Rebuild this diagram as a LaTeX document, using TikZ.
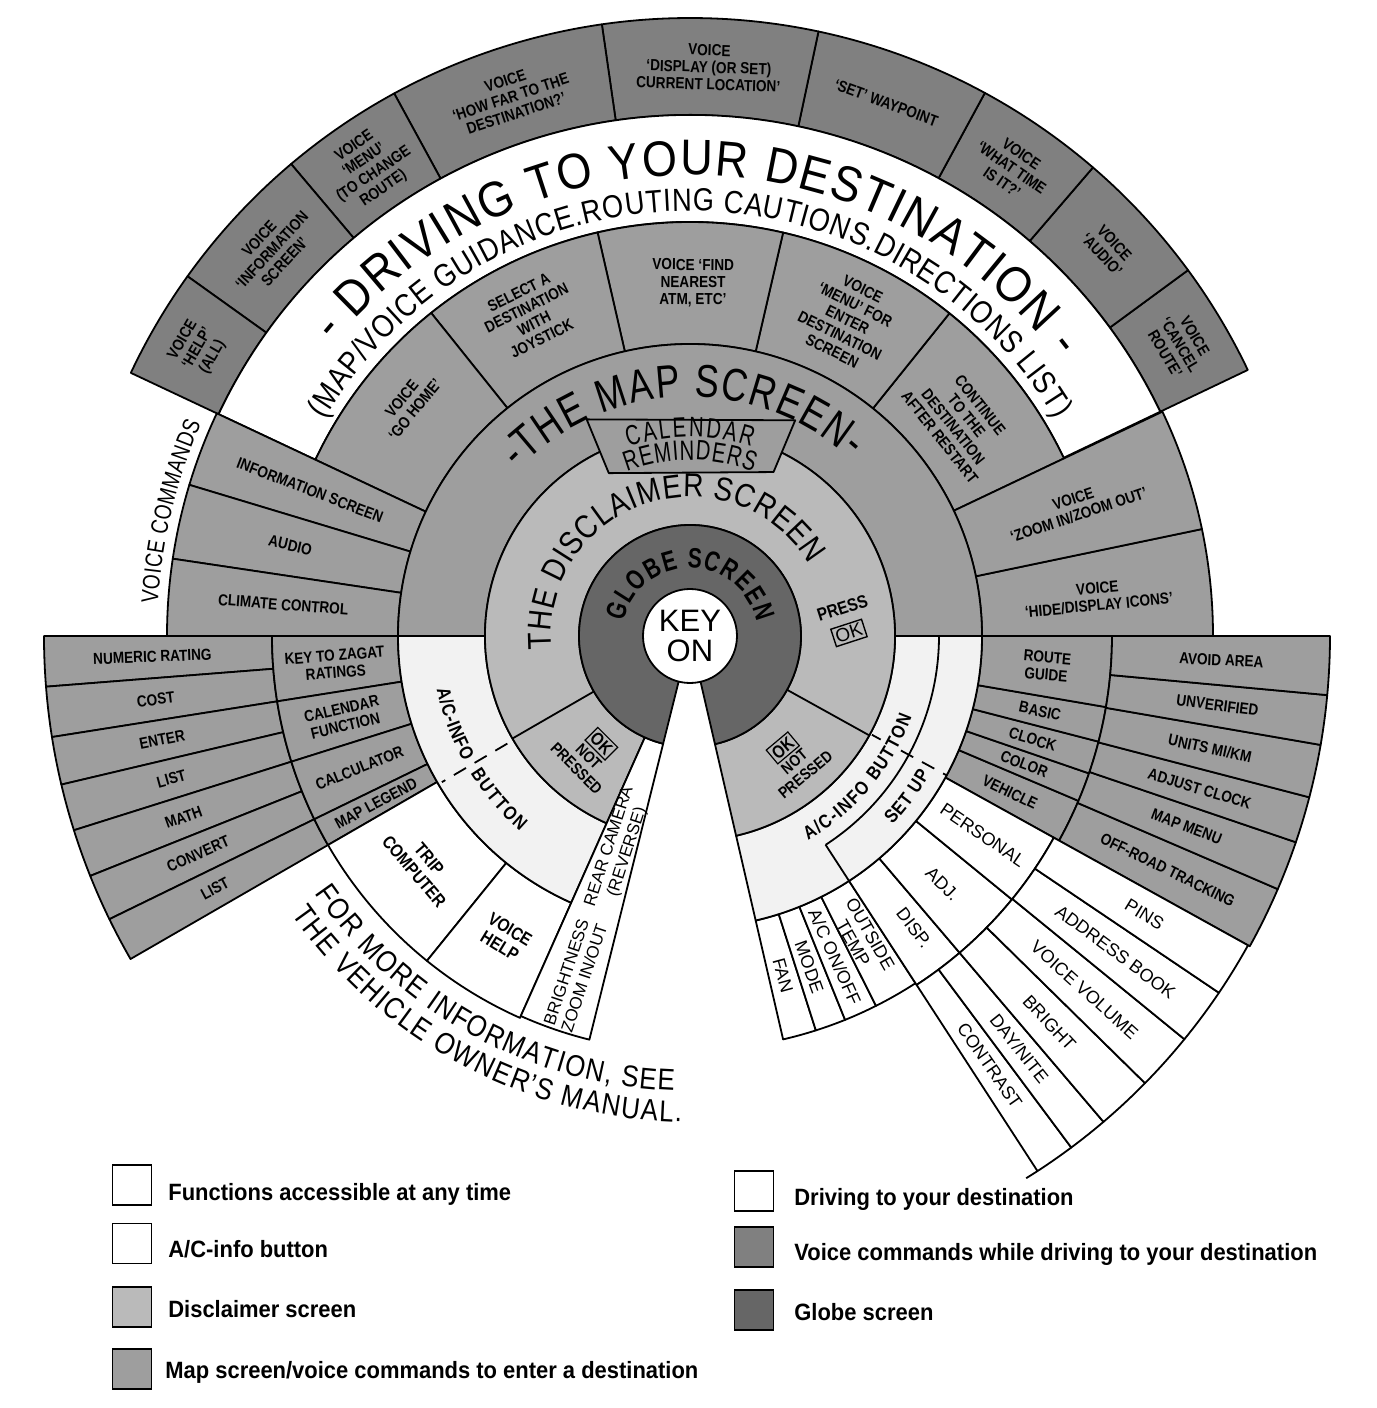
\documentclass[tikz,border=0pt]{standalone}
\usepackage{fontspec}
\setmainfont{Liberation Sans}
\newfontfamily\labf[FakeStretch=0.85]{Liberation Sans}
\newfontfamily\ttlf[FakeStretch=0.9]{Liberation Sans}
\newfontfamily\subf[FakeStretch=0.85]{Liberation Sans}
\newfontfamily\mapf[FakeStretch=0.78]{Liberation Sans}
\newfontfamily\glof[FakeStretch=0.75]{Liberation Sans}
\newfontfamily\calf[FakeStretch=0.72]{Liberation Sans}
\newfontfamily\vcf[FakeStretch=0.8]{Liberation Sans}
\newfontfamily\forf[FakeStretch=0.86]{Liberation Sans}
\newfontfamily\legf[FakeStretch=0.93]{Liberation Sans}
\usetikzlibrary{decorations.text}
\colorlet{mapg}{black!38}
\colorlet{voiceg}{black!50}
\colorlet{discg}{black!27}
\colorlet{globeg}{black!60}
\colorlet{acg}{black!5}
\setlength\fboxsep{1pt}
\setlength\fboxrule{0.6pt}
\newcommand\labfont{\labf\bfseries\fontsize{8}{8.6}\selectfont}
\newcommand\wfont{\fontsize{9}{9.8}\selectfont}
\newcommand\sfont{\fontsize{8.5}{9.4}\selectfont}
\newcommand\ttlfont{\ttlf\fontsize{25}{25}\selectfont}
\newcommand\subfont{\subf\fontsize{16}{16}\selectfont}
\newcommand\mapfont{\mapf\fontsize{23}{23}\selectfont}
\newcommand\disfont{\subf\fontsize{16.5}{16.5}\selectfont}
\newcommand\glofont{\glof\bfseries\fontsize{14}{14}\selectfont}
\newcommand\calfont{\calf\fontsize{14}{14}\selectfont}
\newcommand\vcfont{\vcf\fontsize{12}{12}\selectfont}
\newcommand\forfont{\forf\fontsize{15}{15}\selectfont}
\newcommand\acfont{\labf\bfseries\fontsize{9.5}{9.5}\selectfont}
\newcommand\legfont{\legf\bfseries\fontsize{11.8}{12}\selectfont}
\newcommand\annsec[5]{\path[#1] (#2:#4) arc[start angle=#2,end angle=#3,radius=#4] -- (#3:#5) arc[start angle=#3,end angle=#2,radius=#5] -- cycle;}
\newcommand\arctext[5]{\path[decorate,decoration={text along path,text={|#1|#2},text align={fit to path}}] (#3:#5) arc[start angle=#3,end angle=#4,radius=#5];}
\begin{document}
\begin{tikzpicture}[x=0.5pt,y=0.5pt,
  cell/.style={fill=#1,draw=black,line width=0.9pt,line join=round},
  ln/.style={draw=black,line width=0.9pt},
  lab/.style={font=\labfont,align=center,inner sep=0pt},
  wlab/.style={font=\wfont,align=center,inner sep=0pt},
  slab/.style={font=\sfont,align=center,inner sep=0pt},
  blab/.style={font=\labf\bfseries\fontsize{9}{9.8}\selectfont,align=center,inner sep=0pt},
  legbox/.style={draw=black,line width=0.6pt,minimum width=19.5pt,minimum height=20pt,inner sep=0pt},
  legtxt/.style={font=\legfont,anchor=base west,inner sep=0pt}]
\useasboundingbox (-690,-772) rectangle (686,636);
\fill[white] (-690,-772) rectangle (686,636);

% ---------- outer voice ring ----------
\foreach \a/\b in {25.5/36.3,36.3/49.3,49.3/61.5,61.5/78,78/98.2,98.2/118.6,118.6/130.2,130.2/144.4,144.4/154.8}
  {\annsec{cell=voiceg}{\a}{\b}{521}{618}}
% white band
\annsec{cell=white}{25.5}{154.8}{414}{521}
% middle ring (map screen voice commands)
\foreach \a/\b in {25.4/51.2,51.2/77,77/102.9,102.9/128.7,128.7/154.8}
  {\annsec{cell=mapg}{\a}{\b}{292}{414}}
% left upper sector
\foreach \a/\b in {154.8/163.2,163.2/171.5,171.5/180}
  {\annsec{cell=mapg}{\a}{\b}{292}{523}}
% right upper sector
\foreach \a/\b in {0/11.8,11.8/25.4}
  {\annsec{cell=mapg}{\a}{\b}{292}{523}}
% left lower: outer column
\foreach \a/\b in {180/184.5,184.5/189,189/193.3,193.3/197.5,197.5/201.8,201.8/206,206/210}
  {\annsec{cell=mapg}{\a}{\b}{418}{646}}
% left lower: inner column
\foreach \a/\b in {180/189,189/197.5,197.5/206,206/210}
  {\annsec{cell=mapg}{\a}{\b}{292}{418}}
% trip computer / voice help
\annsec{cell=white}{210}{231}{292}{418}
\annsec{cell=white}{231}{246}{292}{418}
% right lower gray: inner + outer
\foreach \a/\b in {331/337,337/341,341/345.5,345.5/350.3,350.3/360}
  {\annsec{cell=mapg}{\a}{\b}{292}{422}}
\foreach \a/\b in {331/336.7,336.7/341.2,341.2/345.4,345.4/350.2,350.2/354.7,354.7/360}
  {\annsec{cell=mapg}{\a}{\b}{422}{640}}
% A/C cells
\foreach \a/\b in {283/287.7,287.7/292,292/296.7,296.7/303}
  {\annsec{cell=white}{\a}{\b}{292}{414}}
% set up cells
\foreach \a/\b in {303/310.4,310.4/320.7,320.7/331}
  {\annsec{cell=white}{\a}{\b}{292}{416}}
\foreach \a/\b in {303/306.7,306.7/310.4,310.4/315.5,315.5/320.8,320.8/326,326/331}
  {\annsec{cell=white}{\a}{\b}{416}{638}}
\draw[ln] (301.8:638) arc[start angle=301.8,end angle=303,radius=638];

% ---------- inner rings ----------
\annsec{cell=mapg}{0}{180}{205}{292}
\annsec{cell=acg}{180}{246}{205}{292}
\annsec{cell=acg}{283}{360}{205}{292}
\draw[ln] (303:249) arc[start angle=303,end angle=360,radius=249];
\draw[ln] (303:249) -- (303:292);
\draw[ln,dashed,dash pattern=on 7pt off 5pt] (210.5:212) -- (210.5:288);
\draw[ln,dashed,dash pattern=on 7pt off 5pt] (331.5:240) -- (331.5:292);
\draw[ln] (331.5:207) -- (331.5:217);
% disclaimer
\annsec{cell=discg}{283}{606}{111}{205}
\draw[ln] (210:111) -- (210:205);
\draw[ln] (331:111) -- (331:205);
% strip
\annsec{cell=white}{246}{256}{111}{416}
% globe
\path[cell=globeg] (0,0) -- (283:111) arc[start angle=283,end angle=616,radius=111] -- cycle;
% calendar box
\path[cell=mapg] (115.5:240) -- (64:240) -- (63:184) -- (116.5:182) -- cycle;
% key on
\fill[white] (0,0) circle[radius=47];
\draw[ln] (0,0) circle[radius=47];
\node[font=\fontsize{15.5}{15}\selectfont,align=center,inner sep=0pt] (key) at (0,0) {KEY\\ON};

% ---------- curved titles ----------
\arctext{\ttlfont}{- DRIVING TO YOUR DESTINATION -}{140.5}{37}{461}
\arctext{\subfont}{(MAP/VOICE GUIDANCE.ROUTING CAUTIONS.DIRECTIONS LIST)}{149.4}{30.6}{425}
\arctext{\mapfont}{-THE MAP SCREEN-}{136}{48}{239}
\arctext{\disfont}{THE DISCLAIMER SCREEN}{185.4}{31}{139}
\arctext{\glofont}{GLOBE SCREEN}{168}{12}{68}
\arctext{\calfont}{CALENDAR}{108}{72}{199}
\arctext{\calfont}{REMINDERS}{111}{69}{176}
\arctext{\vcfont}{VOICE COMMANDS}{176.5}{156.5}{533}
\arctext{\forfont}{FOR MORE INFORMATION, SEE}{214.5}{268}{455}
\arctext{\forfont}{THE VEHICLE OWNER’S MANUAL.}{215}{269}{486}
\arctext{\acfont}{A/C-INFO}{192}{209}{259}
\arctext{\acfont}{BUTTON}{212}{229}{259}
\arctext{\acfont}{A/C-INFO BUTTON}{300}{340}{236}
\arctext{\acfont}{SET UP}{317}{330}{277}

% ---------- outer ring labels ----------
\node[lab,rotate=59.7] (o1) at (149.7:570) {VOICE\\‘HELP’\\(ALL)};
\node[lab,rotate=47.3] (o2) at (137.3:569) {VOICE\\‘INFORMATION\\SCREEN’};
\node[lab,rotate=34.4] (o3) at (124.4:568) {VOICE\\‘MENU’\\(TO CHANGE\\ROUTE)};
\node[lab,rotate=18.4] (o4) at (108.4:568) {VOICE\\‘HOW FAR TO THE\\DESTINATION?’};
\node[lab,rotate=-1.9] (o5) at (88.1:569) {VOICE\\‘DISPLAY (OR SET)\\CURRENT LOCATION’};
\node[lab,rotate=-20.2] (o6) at (69.8:568) {‘SET’ WAYPOINT};
\node[lab,rotate=-34.5] (o7) at (55.5:568) {VOICE\\‘WHAT TIME\\IS IT?’};
\node[lab,rotate=-47.2] (o8) at (42.8:570) {VOICE\\‘AUDIO’};
\node[lab,rotate=-59.3] (o9) at (30.7:570) {VOICE\\‘CANCEL\\ROUTE’};
% middle ring labels
\node[lab,rotate=50.5] (m1) at (140.5:365) {VOICE\\‘GO HOME’};
\node[lab,rotate=26.5] (m2) at (116.5:358) {SELECT A\\DESTINATION\\WITH\\JOYSTICK};
\node[lab,rotate=-0.5] (m3) at (89.5:353) {VOICE ‘FIND\\NEAREST\\ATM, ETC’};
\node[lab,rotate=-26.5] (m4) at (63.5:353) {VOICE\\‘MENU’ FOR\\ENTER\\DESTINATION\\SCREEN};
\node[lab,rotate=-51.5] (m5) at (38.5:345) {CONTINUE\\TO THE\\DESTINATION\\AFTER RESTART};
% left upper
\node[lab,rotate=-21] (lu1) at (159:407) {INFORMATION SCREEN};
\node[lab,rotate=-12.8] (lu2) at (167.2:410) {AUDIO};
\node[lab,rotate=-4.4] (lu3) at (175.6:408) {CLIMATE CONTROL};
% right upper
\node[lab,rotate=18.5] (ru1) at (18.5:407) {VOICE\\‘ZOOM IN/ZOOM OUT’};
\node[lab,rotate=5.5] (ru2) at (5.5:410) {VOICE\\‘HIDE/DISPLAY ICONS’};
% left lower outer
\node[lab,rotate=2.2] (ll1) at (182.2:538) {NUMERIC RATING};
\node[lab,rotate=6.8] (ll2) at (186.8:538) {COST};
\node[lab,rotate=11.1] (ll3) at (191.1:538) {ENTER};
\node[lab,rotate=15.4] (ll4) at (195.4:538) {LIST};
\node[lab,rotate=19.7] (ll5) at (199.7:538) {MATH};
\node[lab,rotate=23.9] (ll6) at (203.9:538) {CONVERT};
\node[lab,rotate=28] (ll7) at (208:538) {LIST};
% left lower inner
\node[lab,rotate=4.5] (li1) at (184.5:356) {KEY TO ZAGAT\\RATINGS};
\node[lab,rotate=13.2] (li2) at (193.2:356) {CALENDAR\\FUNCTION};
\node[lab,rotate=21.8] (li3) at (201.8:356) {CALCULATOR};
\node[lab,rotate=28.1] (li4) at (208.1:356) {MAP LEGEND};
% right lower inner
\node[lab,rotate=-4.8] (ri1) at (355.2:358) {ROUTE\\GUIDE};
\node[lab,rotate=-12.1] (ri2) at (347.9:358) {BASIC};
\node[lab,rotate=-16.8] (ri3) at (343.2:358) {CLOCK};
\node[lab,rotate=-21] (ri4) at (339:358) {COLOR};
\node[lab,rotate=-26] (ri5) at (334:356) {VEHICLE};
% right lower outer
\node[lab,rotate=-2.6] (ro1) at (357.4:532) {AVOID AREA};
\node[lab,rotate=-7.5] (ro2) at (352.5:532) {UNVERIFIED};
\node[lab,rotate=-12.2] (ro3) at (347.8:532) {UNITS MI/KM};
\node[lab,rotate=-16.7] (ro4) at (343.3:532) {ADJUST CLOCK};
\node[lab,rotate=-21] (ro5) at (339:532) {MAP MENU};
\node[lab,rotate=-26.1] (ro6) at (333.9:532) {OFF-ROAD TRACKING};
% white right lower
\node[wlab,rotate=-74.7] (w1) at (285.3:352) {FAN};
\node[wlab,rotate=-70.2] (w2) at (289.8:352) {MODE};
\node[wlab,rotate=-65.7] (w3) at (294.3:352) {A/C ON/OFF};
\node[wlab,rotate=-60.4] (w4) at (299.6:348) {OUTSIDE\\TEMP};
\node[wlab,rotate=-52.5] (w5) at (307.5:368) {DISP.};
\node[wlab,rotate=-44.5] (w6) at (315.5:354) {ADJ.};
\node[wlab,rotate=-34.2] (w7) at (325.8:354) {PERSONAL};
\node[wlab,rotate=-55.1] (w8) at (304.9:524) {CONTRAST};
\node[wlab,rotate=-51.4] (w9) at (308.6:528) {DAY/NITE};
\node[wlab,rotate=-47.1] (w10) at (312.9:528) {BRIGHT};
\node[wlab,rotate=-41.9] (w11) at (318.1:530) {VOICE VOLUME};
\node[wlab,rotate=-36.6] (w12) at (323.4:530) {ADDRESS BOOK};
\node[wlab,rotate=-31.5] (w13) at (328.5:533) {PINS};
% white left lower
\node[blab,rotate=-49.5] (w14) at (220.5:353) {TRIP\\COMPUTER};
\node[blab,rotate=-31.5] (w15) at (238.5:354) {VOICE\\HELP};
\node[slab,rotate=72] (w16) at (251.5:225) {REAR CAMERA\\(REVERSE)};
\node[slab,rotate=71.6] (w17) at (251.3:358) {BRIGHTNESS\\ZOOM IN/OUT};
% disclaimer labels
\node[blab,rotate=18] (press) at (10.4:155) {PRESS};
\node[font=\fontsize{9.5}{9.5}\selectfont,draw,line width=0.7pt,inner sep=1.2pt,rotate=18] (pressok) at (1.1:159) {OK};
\node[lab,rotate=-45] (np1) at (230:155) {\fbox{\fontsize{9}{9}\selectfont OK}\\NOT\\PRESSED};
\node[lab,rotate=40] (np2) at (309.7:161) {\fbox{\fontsize{9}{9}\selectfont OK}\\NOT\\PRESSED};

% ---------- legend ----------
\node[legbox,fill=white] (lg1) at (-558,-549) {};
\node[legbox,fill=white] (lg2) at (-558,-607.5) {};
\node[legbox,fill=discg] (lg3) at (-558,-671) {};
\node[legbox,fill=mapg] (lg4) at (-558,-733) {};
\node[legbox,fill=white] (lg5) at (64,-555) {};
\node[legbox,fill=voiceg] (lg6) at (64,-611) {};
\node[legbox,fill=globeg] (lg7) at (64,-674) {};
\node[legtxt] (lt1) at (-522,-564) {Functions accessible at any time};
\node[legtxt] (lt2) at (-522,-621) {A/C-info button};
\node[legtxt] (lt3) at (-522,-681) {Disclaimer screen};
\node[legtxt] (lt4) at (-525,-742) {Map screen/voice commands to enter a destination};
\node[legtxt] (lt5) at (104,-569) {Driving to your destination};
\node[legtxt] (lt6) at (104,-624) {Voice commands while driving to your destination};
\node[legtxt] (lt7) at (104,-684) {Globe screen};
\end{tikzpicture}
\end{document}
